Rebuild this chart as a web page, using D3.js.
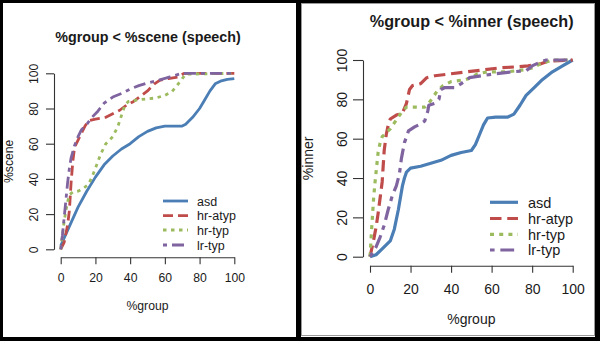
<!DOCTYPE html>
<html><head><meta charset="utf-8">
<script src="https://cdn.jsdelivr.net/npm/d3@7"></script>
<style>
html,body{margin:0;padding:0;background:#000;}
svg{display:block;font-family:"Liberation Sans",Arial,sans-serif;}
</style></head>
<body>
<svg id="chart" width="600" height="341"></svg>
<script>
// ---- data ----
const seriesNames = ["asd","hr-atyp","hr-typ","lr-typ"];
const xTicks = [0,20,40,60,80,100];
const yTicks = [0,20,40,60,80,100];
const titles = ["%group < %scene (speech)","%group < %inner (speech)"];
const yLabels = ["%scene","%inner"];
const xLabel = "%group";

const sceneAsd = [[0,2],[5,13],[10,24],[15,33],[20,41],[25,48],[30,53],[35,57],[40,60],[45,64],[50,67],[55,69],[60,70],[70,70],[72,71],[76,75],[80,80],[83,85],[86,90],[89,94],[92,95.5],[96,96.5],[100,97]];
const sceneHrAtyp = [[0,0],[2,4],[4,14],[5,22],[6,38],[7,50],[8,58],[10,62],[12,66],[14,70],[16,73],[20,74],[26,75],[30,77],[34,79],[38,82],[42,84],[46,87],[50,90],[54,94],[57,96],[62,97],[68,98],[71,100],[100,100]];
const sceneHrTyp = [[0,0],[1,8],[2,16],[3,22],[4,27],[5,31],[7,32.5],[10,33],[13,34.5],[16,37],[18,41],[20,46],[23,54],[26,60],[30,64],[33,70],[35,76],[37,82],[39,84],[45,85],[50,85.5],[55,86],[60,87.5],[64,89.5],[67,93],[70,97],[72,99.5],[100,100]];
const sceneLrTyp = [[0,0],[1,8],[2,18],[3,28],[4,38],[5,46],[6,52],[8,59],[10,64],[12,68],[15,71],[18,75],[21,78],[25,83],[30,86.5],[35,88.5],[40,91],[45,93],[50,94.5],[56,96],[63,98],[70,100],[100,100]];

const innerAsd = [[0,0],[3,1],[6,4],[10,8],[12,14],[14,24],[15,30],[16,36],[17,40],[18,43],[20,45],[25,46],[30,47.5],[35,49],[40,51.5],[45,53],[50,54],[52,57],[54,62],[56,67],[58,70.5],[62,71],[68,71],[71,72.5],[74,77],[77,82],[81,86],[85,90],[90,94],[95,97],[100,100]];
const innerHrAtyp = [[0,0],[1.5,7],[3,15],[4,22],[5,30],[6,38],[6.5,46],[7,54],[8,62],[9,67],[10,70],[13,72],[16,73],[18,78],[19.5,85],[21,87],[25,88],[28,91],[32,92],[40,93],[48,94],[56,95],[64,96],[72,96.5],[78,97],[84,98],[88,99.5],[100,100]];
const innerHrTyp = [[0,0],[0.3,5],[0.8,14],[1.3,22],[1.8,30],[2.5,38],[3.3,46],[4,53],[5,58],[6,61],[8,63],[10,65],[12,68],[14,71],[16,74],[18,76],[22,76],[27,76],[29,78],[31,81],[33,84],[36,87],[40,89],[47,90],[50,91],[53,93],[58,94],[68,94],[76,95],[80,96],[84,98],[90,100],[100,100]];
const innerLrTyp = [[0,0],[3,5],[5,10],[7,16],[9,24],[11,31],[13,36],[14.5,42],[15.5,50],[17,58],[19,64],[22,66],[25,67.5],[27,69],[28.5,74],[29,77],[32,78],[34,80],[35,85],[37,86],[42,86],[45,88],[49,91],[55,92],[62,93],[70,94],[77,94.5],[80,97],[84,99],[87,100],[100,100]];

const panelData = [
  [sceneAsd, sceneHrAtyp, sceneHrTyp, sceneLrTyp],
  [innerAsd, innerHrAtyp, innerHrTyp, innerLrTyp]
];

// ---- styles / layout ----
const colors = ["#4a7eb5","#bf4c4a","#9cbb5e","#7f64a0"];
const dashBase = [null,[10,5],[3.5,4.5],[4,5,12,5]];

const layouts = [
  {xr:[60.7,234.3], yr:[249.3,73.3], xAxisY:257.3, yAxisX:54, xTickLen:7, yTickLen:8,
   fTick:12.2, fTitle:14.3, fLeg:12.5, titleX:148, titleY:41.7, xLabY:309.8, yLabX:12.5,
   xTickBase:282.4, yTickBase:38.4, lw:2.8, scale:1,
   leg:{x1:163,x2:188,tx:197,rows:[201,215.7,230,245],dy:4.7}},
  {xr:[370,572.7], yr:[256.7,60], xAxisY:265.7, yAxisX:363, xTickLen:7, yTickLen:10,
   fTick:14, fTitle:16.2, fLeg:14.5, titleX:471.7, titleY:26.9, xLabY:324.2, yLabX:313,
   xTickBase:294, yTickBase:346.7, lw:3.2, scale:1.15,
   leg:{x1:490,x2:518,tx:528,rows:[202.3,218.5,234.3,250],dy:5.3}}
];

const svg = d3.select("#chart");
svg.append("rect").attr("x",0).attr("y",0).attr("width",600).attr("height",341).attr("fill","#000");
svg.append("rect").attr("x",3).attr("y",3).attr("width",293).attr("height",334).attr("fill","#fff");
svg.append("rect").attr("x",301).attr("y",3).attr("width",294).attr("height",334).attr("fill","#fff");
svg.append("rect").attr("x",301.5).attr("y",3.5).attr("width",293).attr("height",332)
   .attr("fill","none").attr("stroke","#9a9a9a").attr("stroke-width",1);

const axisCol = "#333";
const textCol = "#1a1a1a";

layouts.forEach((L,pi)=>{
  const g = svg.append("g");
  const x = d3.scaleLinear().domain([0,100]).range(L.xr);
  const y = d3.scaleLinear().domain([0,100]).range(L.yr);

  // x axis
  const xa = g.append("g").attr("transform",`translate(0,${L.xAxisY})`)
    .call(d3.axisBottom(x).tickValues(xTicks).tickSize(L.xTickLen).tickSizeOuter(0).tickPadding(0));
  xa.select(".domain").attr("stroke",axisCol).attr("stroke-width",1.1);
  xa.selectAll(".tick line").attr("stroke",axisCol).attr("stroke-width",1.1);
  xa.selectAll(".tick text").attr("y",L.xTickBase-L.xAxisY).attr("dy",null)
    .attr("font-size",L.fTick).attr("fill",textCol).attr("font-family","Liberation Sans, Arial, sans-serif");

  // y axis
  const ya = g.append("g").attr("transform",`translate(${L.yAxisX},0)`)
    .call(d3.axisLeft(y).tickValues(yTicks).tickSize(L.yTickLen).tickSizeOuter(0).tickPadding(0));
  ya.select(".domain").attr("stroke",axisCol).attr("stroke-width",1.1);
  ya.selectAll(".tick line").attr("stroke",axisCol).attr("stroke-width",1.1);
  ya.selectAll(".tick text").attr("transform","rotate(-90)").attr("x",0).attr("dy",null)
    .attr("y",L.yTickBase-L.yAxisX).attr("text-anchor","middle")
    .attr("font-size",L.fTick).attr("fill",textCol).attr("font-family","Liberation Sans, Arial, sans-serif");

  // title
  g.append("text").attr("x",L.titleX).attr("y",L.titleY).attr("text-anchor","middle")
    .attr("font-weight","bold").attr("font-size",L.fTitle).attr("fill",textCol).text(titles[pi]);
  // axis labels
  g.append("text").attr("x",(L.xr[0]+L.xr[1])/2).attr("y",L.xLabY).attr("text-anchor","middle")
    .attr("font-size",L.fTick).attr("fill",textCol).text(xLabel);
  const ymid=(L.yr[0]+L.yr[1])/2;
  g.append("text").attr("transform",`translate(${L.yLabX},${ymid}) rotate(-90)`).attr("text-anchor","middle")
    .attr("font-size",L.fTick).attr("fill",textCol).text(yLabels[pi]);

  // lines
  const line = d3.line().x(d=>x(d[0])).y(d=>y(d[1]));
  panelData[pi].forEach((s,si)=>{
    const p = g.append("path").datum(s).attr("d",line).attr("fill","none")
      .attr("stroke",colors[si]).attr("stroke-width",L.lw).attr("stroke-linejoin","round");
    if(dashBase[si]) p.attr("stroke-dasharray",dashBase[si].map(v=>v*L.scale).join(","));
  });

  // legend
  seriesNames.forEach((nm,si)=>{
    const ry=L.leg.rows[si];
    const l=g.append("line").attr("x1",L.leg.x1).attr("x2",L.leg.x2).attr("y1",ry).attr("y2",ry)
      .attr("stroke",colors[si]).attr("stroke-width",L.lw);
    if(dashBase[si]) l.attr("stroke-dasharray",dashBase[si].map(v=>v*L.scale).join(","));
    g.append("text").attr("x",L.leg.tx).attr("y",ry+L.leg.dy).attr("font-size",L.fLeg)
      .attr("fill",textCol).text(nm);
  });
});
</script>
</body></html>
